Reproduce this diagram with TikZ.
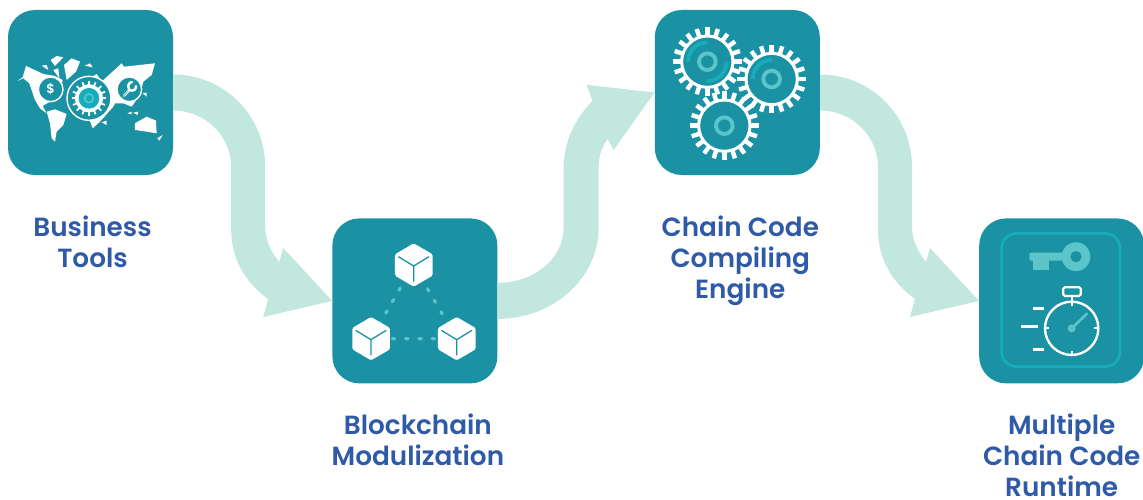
\documentclass[tikz,border=0pt]{standalone}
\usepackage{fontspec}
\setmainfont{Poppins}[BoldFont={Poppins SemiBold}]
\usetikzlibrary{positioning}
\definecolor{boxteal}{HTML}{1B92A4}
\definecolor{flowmint}{HTML}{C2E7DF}
\definecolor{labelblue}{HTML}{2F5AA8}
\definecolor{softcyan}{HTML}{5CC5C9}
\definecolor{brightcyan}{HTML}{14AEBB}
\tikzset{
  stepbox/.style={fill=boxteal,minimum size=165pt,inner sep=0pt,rounded corners=27pt},
  steplabel/.style={text=labelblue,font=\fontsize{26.3}{31}\selectfont\bfseries,align=center,inner sep=0pt},
  flow/.style={fill=flowmint},
  zoomed/.style={x=0.3333pt,y=-0.3333pt},
  landmass/.style={fill=white},
  tinyring/.style={fill=boxteal,draw=white,line width=1.4pt}
}
\newcommand{\flowdown}[2]{
  \begin{scope}[shift={(#1.east)}]
    \fill[flow] (0,-18) .. controls (51,-18) and (92,23) .. (92,74.5) -- (92,134.5)
      .. controls (92,147.5) and (98,159.5) .. (106,169.5) -- (110,155.5) -- (#2.west)
      -- (90,224.5) -- (95,206.5) .. controls (72,190.5) and (58,165.5) .. (58,137.5)
      -- (58,74.5) .. controls (58,43.5) and (32,18) .. (0,18) -- cycle;
  \end{scope}
}
\newcommand{\blockcube}[2]{
  \begin{scope}[shift={(#1,#2)}]
    \fill[white,rounded corners=1.5pt] (0,-65) -- (57,-32) -- (57,32) -- (0,65) -- (-56,32) -- (-56,-32) -- cycle;
    \draw[boxteal,line width=1.3pt] (-46,-25) -- (0,3) -- (46,-25) (0,3) -- (0,50);
  \end{scope}
}
\newcommand{\gearwheel}[2]{
  \begin{scope}[shift={(#1,#2)}]
    \foreach \a in {0,18,...,350}
      \draw[white,line width=4.4pt] (\a:72) -- (\a:103);
    \draw[white,fill=boxteal,line width=3pt] (0,0) circle[radius=77];
    \draw[softcyan,line width=3.8pt] (0,0) circle[radius=25];
  \end{scope}
}
\begin{document}
\begin{tikzpicture}[x=1pt,y=-1pt]
  \useasboundingbox (0,0) rectangle (1143,500);
  \node(tools)[stepbox] at (90.5,92.5) {};
  \node(modul)[stepbox,below right=43pt and 159pt of tools] {};
  \node(chain)[stepbox,above right=43pt and 157pt of modul] {};
  \node(runtime)[stepbox,below right=43pt and 159pt of chain] {};
  \node(toolstext)[steplabel,below=40pt of tools,xshift=2pt] {Business\\Tools};
  \node(modultext)[steplabel,below=30pt of modul,xshift=3pt] {Blockchain\\Modulization};
  \node(chaintext)[steplabel,below=40pt of chain,xshift=3pt] {Chain Code\\Compiling\\Engine};
  \node(runtimetext)[steplabel,below=30pt of runtime,xshift=0pt] {Multiple\\Chain Code\\Runtime};
  \flowdown{tools}{modul}
  \flowdown{chain}{runtime}
  \begin{scope}[shift={(modul.east)}]
    \fill[flow] (0,18) .. controls (56,18) and (101,-23) .. (101,-73) -- (101,-133)
      .. controls (101,-144) and (104,-154) .. (110,-162) -- (116,-151) -- (chain.west)
      -- (89,-216) -- (95,-200) .. controls (77,-182) and (66,-158) .. (66,-133)
      -- (66,-73) .. controls (66,-42) and (36,-18) .. (0,-18) -- cycle;
  \end{scope}
  \begin{scope}[zoomed]
    \fill[landmass] (52,243) -- (68,232) -- (78,198) -- (130,222) -- (165,228) -- (188,240) -- (175,290) -- (128,318) -- (140,340) -- (120,325) -- (105,300) -- (88,250) -- (70,235) -- cycle;
    \fill[landmass] (192,195) -- (215,175) -- (240,185) -- (228,215) -- (200,240) -- cycle;
    \fill[landmass] (152,180) -- (170,168) -- (190,172) -- (165,198) -- cycle;
    \fill[landmass] (125,197) -- (140,195) -- (145,210) -- cycle;
    \fill[landmass] (160,210) -- (175,205) -- (178,235) -- cycle;
    \fill[landmass] (255,197) -- (270,190) -- (278,202) -- cycle;
    \fill[landmass] (140,335) -- (165,328) -- (200,342) -- (190,375) -- (170,395) -- (165,425) -- (155,415) -- (150,370) -- cycle;
    \fill[landmass] (305,245) -- (365,190) -- (372,200) -- (465,190) -- (455,225) -- (430,245) -- (420,285) -- (395,320) -- (370,310) -- (345,310) -- (340,320) -- (300,365) -- (278,385) -- (265,350) -- (270,235) -- (290,222) -- cycle;
    \fill[landmass] (305,367) -- (320,362) -- (320,375) -- cycle;
    \fill[landmass] (405,370) -- (440,350) -- (468,362) -- (470,400) -- (440,395) -- (405,390) -- cycle;
    \fill[landmass] (472,415) -- (488,405) -- (478,422) -- cycle;
    \fill[landmass] (382,340) -- (395,335) -- (395,343) -- cycle;
    \fill[landmass] (400,338) -- (415,335) -- (412,345) -- cycle;
    \fill[landmass] (428,280) -- (440,278) -- (440,290) -- cycle;
    \draw[tinyring] (152,268) circle[radius=37];
    \node(dollar)[text=white,font=\fontsize{13}{13}\selectfont\bfseries,inner sep=0pt] at (152,268) {\$};
    \draw[tinyring] (388,268) circle[radius=37];
    \draw[white,line width=2.4pt] (372,288) -- (388,270) .. controls (380,255) and (388,246) .. (398,246);
    \draw[white,line width=2.4pt] (388,270) .. controls (400,276) and (410,268) .. (408,256);
    \draw[softcyan,line width=.8pt] (366,294) -- (384,274);
    \draw[tinyring] (267,295) circle[radius=66];
    \foreach \a in {0,22.5,...,350}
      \draw[white,line width=1.7pt] ([shift={(267,295)}]\a:38) -- ([shift={(267,295)}]\a:52);
    \fill[white] (267,295) circle[radius=42];
    \fill[brightcyan] (267,295) circle[radius=31];
    \draw[softcyan,line width=1.5pt] (267,295) circle[radius=13];
  \end{scope}
  \begin{scope}[shift={(325,210)},zoomed]
    \coordinate(cubetop) at (266,165);
    \coordinate(cubeleft) at (138,386);
    \coordinate(cuberight) at (395,386);
    \draw[softcyan,line width=3.2pt,line cap=round,dash pattern=on 2.5pt off 10.8pt] (cubetop) -- (cubeleft) -- (cuberight) -- cycle;
    \blockcube{266}{165}
    \blockcube{138}{386}
    \blockcube{395}{386}
  \end{scope}
  \begin{scope}[shift={(650,5)},zoomed]
    \gearwheel{223}{362}
    \gearwheel{172}{170}
    \gearwheel{365}{222}
    \draw[brightcyan,line width=3.8pt] (172,112) arc[start angle=-90,end angle=-180,radius=58];
    \draw[brightcyan,line width=3.8pt] (172,228) arc[start angle=90,end angle=0,radius=58];
    \draw[brightcyan,line width=3.8pt] (365,165) arc[start angle=-90,end angle=-180,radius=57];
  \end{scope}
  \begin{scope}[shift={(970,210)},zoomed]
    \draw[brightcyan,line width=2.6pt,rounded corners=15pt] (95,70) rectangle (450,470);
    \fill[softcyan] (318,140) circle[radius=43];
    \fill[softcyan,rounded corners=2pt] (178,128) rectangle (300,152);
    \fill[softcyan] (190,150) rectangle (238,180);
    \fill[boxteal] (318,140) circle[radius=17];
    \draw[white,line width=2.4pt] (305,355) circle[radius=80];
    \draw[white,line width=2.2pt,rounded corners=1.5pt] (280,232) rectangle (332,258);
    \draw[white,line width=2.2pt] (305,258) -- (305,285);
    \draw[white,line width=1.8pt] (305,275) -- (305,287) (305,423) -- (305,435) (225,355) -- (237,355) (373,355) -- (385,355);
    \draw[white,line width=2.4pt] (190,295) -- (222,295) (153,350) -- (205,350) (190,418) -- (222,418);
    \fill[softcyan] (305,355) circle[radius=12];
    \draw[softcyan,line width=2.6pt] (305,355) -- (352,310);
  \end{scope}
\end{tikzpicture}
\end{document}
